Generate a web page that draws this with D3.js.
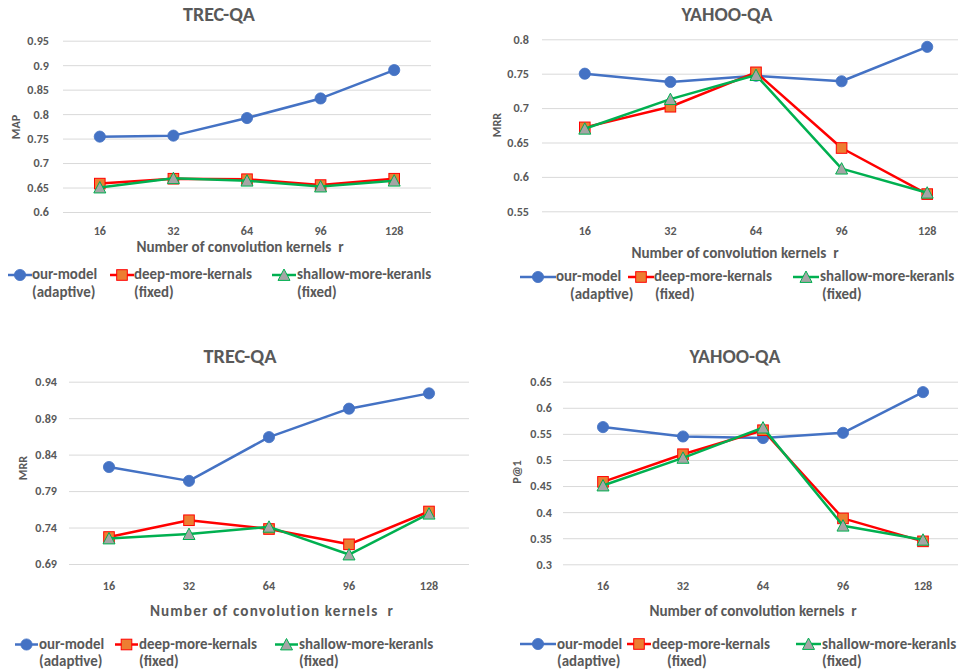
<!DOCTYPE html>
<html><head><meta charset="utf-8">
<script src="https://cdn.jsdelivr.net/npm/d3@7"></script>
<style>
html,body{margin:0;padding:0;background:#fff;}
svg{display:block;}
text{font-family:Carlito,Calibri,Lato,"Open Sans",sans-serif;font-weight:bold;fill:#595959;}
</style></head>
<body>
<svg id="chart" width="958" height="670"></svg>
<script>
// ---------- data ----------
const categories = ["16", "32", "64", "96", "128"];
const seriesNames = ["our-model", "deep-more-kernals", "shallow-more-keranls"];
const seriesSub = ["(adaptive)", "(fixed)", "(fixed)"];

const trecMapOur     = [0.754, 0.756, 0.792, 0.832, 0.890];
const trecMapDeep    = [0.658, 0.668, 0.667, 0.655, 0.668];
const trecMapShallow = [0.650, 0.669, 0.664, 0.652, 0.664];
const trecMapTicks   = [0.6, 0.65, 0.7, 0.75, 0.8, 0.85, 0.9, 0.95];

const yahooMrrOur     = [0.750, 0.738, 0.747, 0.739, 0.789];
const yahooMrrDeep    = [0.672, 0.702, 0.752, 0.642, 0.575];
const yahooMrrShallow = [0.670, 0.713, 0.748, 0.612, 0.577];
const yahooMrrTicks   = [0.55, 0.6, 0.65, 0.7, 0.75, 0.8];

const trecMrrOur     = [0.823, 0.804, 0.864, 0.903, 0.924];
const trecMrrDeep    = [0.727, 0.750, 0.738, 0.717, 0.762];
const trecMrrShallow = [0.725, 0.731, 0.741, 0.703, 0.759];
const trecMrrTicks   = [0.69, 0.74, 0.79, 0.84, 0.89, 0.94];

const yahooP1Our     = [0.563, 0.545, 0.542, 0.552, 0.630];
const yahooP1Deep    = [0.458, 0.511, 0.557, 0.388, 0.344];
const yahooP1Shallow = [0.451, 0.504, 0.562, 0.374, 0.347];
const yahooP1Ticks   = [0.3, 0.35, 0.4, 0.45, 0.5, 0.55, 0.6, 0.65];

// ---------- styles ----------
const lineColors = ["#4472C4", "#FF0000", "#00B050"];
const fillColors = ["#4472C4", "#ED7D31", "#A5A5A5"];
const strokeColors = ["#4472C4", "#FF0000", "#00B050"];
const FONT = "Carlito,Calibri,Lato,sans-serif";

const svg = d3.select("#chart");

// font size giving a string the target width
function sizeFor(str, target, base) {
  const t = svg.append("text").attr("font-size", base).style("font-family", FONT).attr("font-weight", "bold").text(str);
  const w = t.node().getComputedTextLength();
  t.remove();
  return w > 0 ? base * target / w : base;
}

function marker(g, kind, x, y) {
  if (kind === 0) {
    g.append("circle").attr("cx", x).attr("cy", y).attr("r", 5.6)
      .attr("fill", fillColors[0]).attr("stroke", strokeColors[0]).attr("stroke-width", 0.8);
  } else if (kind === 1) {
    g.append("rect").attr("x", x - 5.3).attr("y", y - 5.3).attr("width", 10.6).attr("height", 10.6)
      .attr("fill", fillColors[1]).attr("stroke", strokeColors[1]).attr("stroke-width", 1);
  } else {
    const s = 6;
    g.append("path").attr("d", `M${x},${y - s}L${x + s},${y + s * 0.9}L${x - s},${y + s * 0.9}Z`)
      .attr("fill", fillColors[2]).attr("stroke", strokeColors[2]).attr("stroke-width", 1);
  }
}

function panel(cfg) {
  const g = svg.append("g");
  const x = d3.scaleBand().domain(categories).range([cfg.x0, cfg.x1]);
  const y = d3.scaleLinear().domain([cfg.ticks[0], cfg.ticks[cfg.ticks.length - 1]]).range([cfg.yb, cfg.yt]);
  const tickFs = sizeFor("0.95", 21.7, 13);
  const legFs = sizeFor("deep-more-kernals", 118, 13);
  const titleFs = sizeFor(cfg.title, cfg.titleW, 18);
  const xTitleFs = sizeFor("Number of convolution kernels  r", 204, 13);

  // gridlines + y tick labels via axis
  const yAxis = d3.axisLeft(y).tickValues(cfg.ticks).tickSize(-(cfg.x1 - cfg.x0)).tickPadding(cfg.x0 - cfg.tickRight).tickFormat(d => String(+d.toFixed(2)));
  const ya = g.append("g").attr("transform", `translate(${cfg.x0},0)`).call(yAxis);
  ya.select(".domain").remove();
  ya.selectAll(".tick line").attr("stroke", "#D9D9D9").attr("stroke-width", 1);
  ya.selectAll(".tick text").attr("font-size", tickFs).attr("fill", "#595959")
    .attr("font-family", null).style("font-family", FONT).attr("font-weight", "bold");

  // x tick labels via axis
  const xAxis = d3.axisBottom(x).tickSize(0).tickPadding(0);
  const xa = g.append("g").attr("transform", `translate(0,${cfg.xTickY})`).call(xAxis);
  xa.select(".domain").remove();
  xa.selectAll(".tick text").attr("font-size", tickFs).attr("fill", "#595959").attr("dy", 0)
    .attr("font-family", null).style("font-family", FONT).attr("font-weight", "bold");

  // series
  cfg.series.forEach((vals, si) => {
    const line = d3.line().x((d, i) => x(categories[i]) + x.bandwidth() / 2).y(d => y(d));
    g.append("path").datum(vals).attr("d", line).attr("fill", "none")
      .attr("stroke", lineColors[si]).attr("stroke-width", 2.5).attr("stroke-linejoin", "round");
    const mg = g.append("g");
    vals.forEach((v, i) => marker(mg, si, x(categories[i]) + x.bandwidth() / 2, y(v)));
  });

  // title
  g.append("text").attr("x", cfg.titleX).attr("y", cfg.titleY).attr("text-anchor", "middle")
    .attr("font-size", titleFs).text(cfg.title);

  // y axis title
  g.append("text").attr("transform", `translate(${cfg.yLabX},${cfg.yLabY}) rotate(-90)`)
    .attr("text-anchor", "middle").attr("font-size", tickFs).text(cfg.yLabel);

  // x axis title
  g.append("text").attr("x", cfg.xTitleX).attr("y", cfg.xTitleY).attr("text-anchor", "middle")
    .attr("font-size", xTitleFs).attr("letter-spacing", cfg.xTitleLs || 0)
    .attr("xml:space", "preserve").text("Number of convolution kernels  r");

  // legend
  cfg.legend.forEach((L, si) => {
    const lg = g.append("g");
    lg.append("line").attr("x1", L.s0).attr("x2", L.s1).attr("y1", cfg.legY).attr("y2", cfg.legY)
      .attr("stroke", lineColors[si]).attr("stroke-width", 2.5);
    marker(lg, si, (L.s0 + L.s1) / 2, cfg.legY);
    lg.append("text").attr("x", L.t0).attr("y", cfg.legY1).attr("font-size", legFs).text(seriesNames[si]);
    lg.append("text").attr("x", L.t1).attr("y", cfg.legY2).attr("font-size", legFs).text(seriesSub[si]);
  });
}

panel({
  x0: 63, x1: 431, yt: 40.7, yb: 212, ticks: trecMapTicks, tickRight: 49, xTickY: 234.5,
  series: [trecMapOur, trecMapDeep, trecMapShallow],
  title: "TREC-QA", titleX: 219, titleY: 21, titleW: 72,
  yLabel: "MAP", yLabX: 20, yLabY: 127,
  xTitleX: 240, xTitleY: 251.5,
  legY: 275, legY1: 279, legY2: 297,
  legend: [{s0: 8, s1: 32, t0: 32, t1: 32}, {s0: 110, s1: 134, t0: 134, t1: 134}, {s0: 272, s1: 296, t0: 297, t1: 297}]
});

panel({
  x0: 542, x1: 970, yt: 39.3, yb: 211.3, ticks: yahooMrrTicks, tickRight: 529, xTickY: 235,
  series: [yahooMrrOur, yahooMrrDeep, yahooMrrShallow],
  title: "YAHOO-QA", titleX: 727, titleY: 21, titleW: 91,
  yLabel: "MRR", yLabX: 501, yLabY: 125,
  xTitleX: 735, xTitleY: 258,
  legY: 277, legY1: 281, legY2: 299,
  legend: [{s0: 520, s1: 556, t0: 556, t1: 570}, {s0: 628, s1: 654, t0: 654, t1: 655}, {s0: 793, s1: 819, t0: 820, t1: 822}]
});

panel({
  x0: 69, x1: 469, yt: 381.7, yb: 564, ticks: trecMrrTicks, tickRight: 57, xTickY: 590,
  series: [trecMrrOur, trecMrrDeep, trecMrrShallow],
  title: "TREC-QA", titleX: 240, titleY: 363, titleW: 73,
  yLabel: "MRR", yLabX: 27, yLabY: 468,
  xTitleX: 272, xTitleY: 616, xTitleLs: 1.15,
  legY: 644.5, legY1: 649, legY2: 666,
  legend: [{s0: 15, s1: 38, t0: 39, t1: 39}, {s0: 115, s1: 138, t0: 139, t1: 139}, {s0: 275, s1: 298, t0: 299, t1: 299}]
});

panel({
  x0: 563, x1: 963, yt: 381.7, yb: 564.3, ticks: yahooP1Ticks, tickRight: 552, xTickY: 590,
  series: [yahooP1Our, yahooP1Deep, yahooP1Shallow],
  title: "YAHOO-QA", titleX: 735, titleY: 363, titleW: 91,
  yLabel: "P@1", yLabX: 521, yLabY: 472,
  xTitleX: 753, xTitleY: 616,
  legY: 644, legY1: 649, legY2: 666,
  legend: [{s0: 520, s1: 556, t0: 557, t1: 557}, {s0: 627, s1: 651, t0: 652, t1: 667}, {s0: 796, s1: 821, t0: 822, t1: 822}]
});
</script>
</body></html>
